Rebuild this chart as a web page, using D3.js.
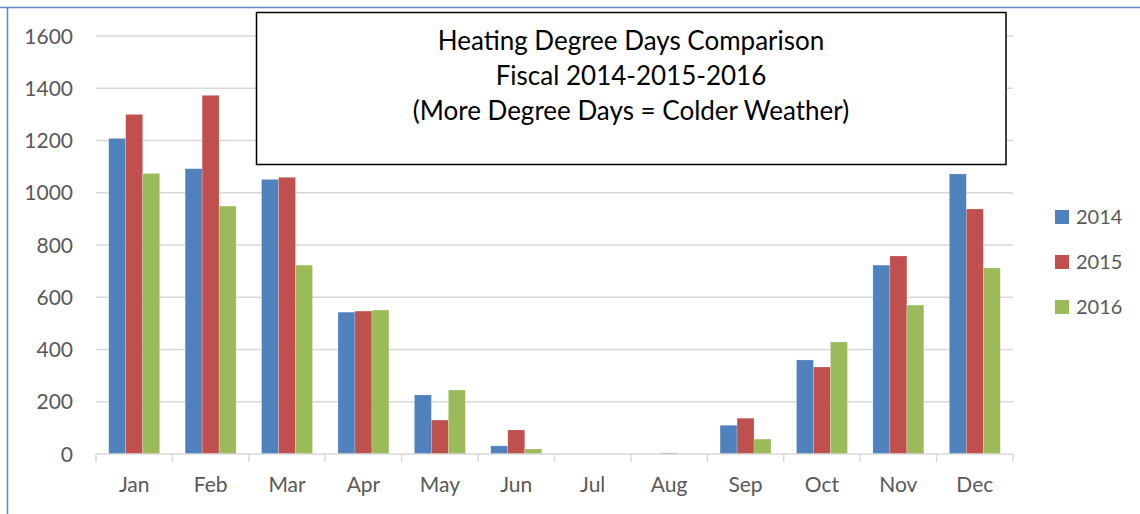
<!DOCTYPE html>
<html lang="en">
<head>
    <meta charset="UTF-8">
    <title>Heating Degree Days Comparison</title>
    <script src="https://d3js.org/d3.v7.min.js"></script>
    <style>
        body {
            margin: 0;
            padding: 0;
            background: white;
        }
        svg {
            display: block;
            font-family: Lato, "Open Sans", Arial, sans-serif;
        }
    </style>
</head>
<body>
    <svg id="chart" width="1140" height="514"></svg>

    <script>
        // data
        const months = ["Jan", "Feb", "Mar", "Apr", "May", "Jun", "Jul", "Aug", "Sep", "Oct", "Nov", "Dec"];
        const years = ["2014", "2015", "2016"];
        const hdd2014 = [1208, 1092, 1051, 543, 226, 31, 0, 0, 110, 360, 723, 1072];
        const hdd2015 = [1300, 1373, 1059, 547, 130, 92, 0, 4, 137, 333, 758, 938];
        const hdd2016 = [1074, 949, 723, 551, 245, 19, 0, 0, 57, 429, 570, 712];
        const yTicks = [0, 200, 400, 600, 800, 1000, 1200, 1400, 1600];
        const titleLines = ["Heating Degree Days Comparison", "Fiscal 2014-2015-2016", "(More Degree Days = Colder Weather)"];

        const series = [hdd2014, hdd2015, hdd2016];
        const colors = ["#4F81BD", "#C0504D", "#9BBB59"];

        let svg = d3.select("#chart");
        let plotLeft = 96, plotRight = 1013, plotTop = 36, plotBottom = 454;

        // outer frame (top and left edges visible)
        svg.append("line")
            .attr("x1", 0).attr("x2", 1140)
            .attr("y1", 7.5).attr("y2", 7.5)
            .attr("stroke", "#5B87C5").attr("stroke-width", 1.5);
        svg.append("line")
            .attr("x1", 7.5).attr("x2", 7.5)
            .attr("y1", 7).attr("y2", 514)
            .attr("stroke", "#5B87C5").attr("stroke-width", 1.5);

        let x = d3.scaleBand().domain(months).range([plotLeft, plotRight]).padding(0);
        let y = d3.scaleLinear().domain([0, 1600]).range([plotBottom, plotTop]);

        let step = x.bandwidth();
        let barW = step / 4.5;
        let x1 = d3.scaleBand().domain(years).range([0.75 * barW, step - 0.75 * barW]).padding(0);

        // gridlines
        svg.append("g")
            .selectAll("line")
            .data(yTicks.filter(d => d > 0))
            .join("line")
            .attr("x1", plotLeft).attr("x2", plotRight)
            .attr("y1", d => y(d)).attr("y2", d => y(d))
            .attr("stroke", "#D9D9D9").attr("stroke-width", 1.5);

        // y labels
        svg.append("g")
            .selectAll("text")
            .data(yTicks)
            .join("text")
            .attr("x", 73)
            .attr("y", d => y(d))
            .attr("dy", "0.36em")
            .attr("text-anchor", "end")
            .attr("font-size", "21px")
            .attr("fill", "#595959")
            .text(d => d);

        // bars
        series.forEach((vals, si) => {
            svg.append("g")
                .selectAll("rect")
                .data(vals)
                .join("rect")
                .attr("x", (d, i) => x(months[i]) + x1(years[si]))
                .attr("width", x1.bandwidth())
                .attr("y", d => y(d))
                .attr("height", d => plotBottom - y(d))
                .attr("fill", colors[si])
                .attr("stroke", "rgba(255,255,255,0.35)")
                .attr("stroke-width", 0.6);
        });

        // category axis
        svg.append("line")
            .attr("x1", plotLeft).attr("x2", plotRight)
            .attr("y1", plotBottom).attr("y2", plotBottom)
            .attr("stroke", "#D9D9D9").attr("stroke-width", 1.5);
        svg.append("g")
            .selectAll("line")
            .data(months.concat(["end"]))
            .join("line")
            .attr("x1", (d, i) => plotLeft + i * step).attr("x2", (d, i) => plotLeft + i * step)
            .attr("y1", plotBottom).attr("y2", plotBottom + 8)
            .attr("stroke", "#D9D9D9").attr("stroke-width", 1.5);
        svg.append("g")
            .selectAll("text")
            .data(months)
            .join("text")
            .attr("x", d => x(d) + step / 2)
            .attr("y", 492)
            .attr("text-anchor", "middle")
            .attr("font-size", "21px")
            .attr("fill", "#595959")
            .text(d => d);

        // title box
        svg.append("rect")
            .attr("x", 256.5).attr("y", 12.5)
            .attr("width", 749.5).attr("height", 152)
            .attr("fill", "white")
            .attr("stroke", "black").attr("stroke-width", 1.5);
        svg.append("g")
            .selectAll("text")
            .data(titleLines)
            .join("text")
            .attr("x", 631)
            .attr("y", (d, i) => 50 + i * 35)
            .attr("text-anchor", "middle")
            .attr("font-size", "26px")
            .attr("fill", "black")
            .text(d => d);

        // legend
        let legend = svg.append("g")
            .selectAll("g")
            .data(years)
            .join("g")
            .attr("transform", (d, i) => `translate(1055, ${210 + i * 45})`);
        legend.append("rect")
            .attr("width", 14).attr("height", 14)
            .attr("fill", (d, i) => colors[i]);
        legend.append("text")
            .attr("x", 21).attr("y", 7)
            .attr("dy", "0.36em")
            .attr("font-size", "20px")
            .attr("fill", "#595959")
            .text(d => d);
    </script>
</body>
</html>
